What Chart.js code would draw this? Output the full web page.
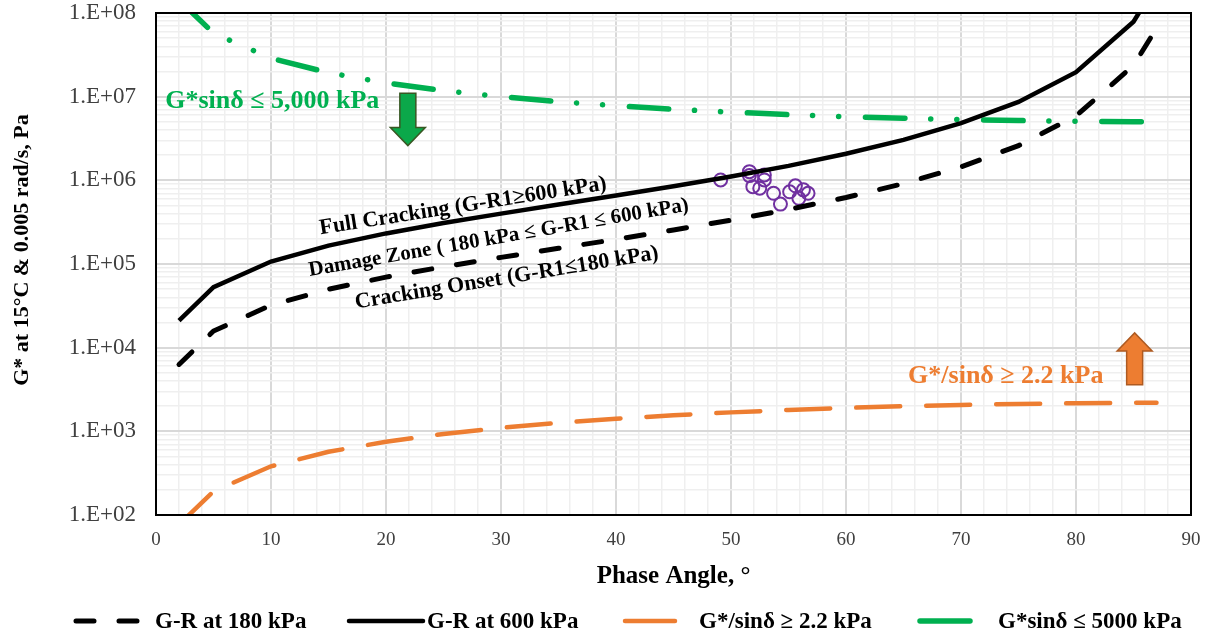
<!DOCTYPE html>
<html>
<head>
<meta charset="utf-8">
<script src="https://cdn.jsdelivr.net/npm/chart.js@4/dist/chart.umd.min.js"></script>
<style>
  html, body { margin: 0; padding: 0; background: #fff; }
  #wrap { width: 1211px; height: 636px; position: relative; }
</style>
</head>
<body>
<div id="wrap"><canvas id="grChart"></canvas></div>
<script>
(function () {
  'use strict';

  // phase angle (deg) of the limit curves
  var phase = [2, 5, 10, 15, 20, 25, 30, 35, 40, 45, 50, 55, 60, 65, 70, 75, 80, 85, 87];
  // G* (Pa) on the Glover-Rowe 180 kPa and 600 kPa curves
  var gr180 = [6.3e3, 1.58e4, 3.22e4, 4.99e4, 6.97e4, 9.26e4, 1.2e5, 1.54e5, 1.97e5, 2.55e5,
               3.34e5, 4.48e5, 6.24e5, 9.13e5, 1.45e6, 2.6e6, 5.88e6, 2.36e7, 6.56e7];
  var gr600 = [2.1e4, 5.3e4, 1.07e5, 1.66e5, 2.32e5, 3.09e5, 4.0e5, 5.13e5, 6.57e5, 8.49e5,
               1.11e6, 1.49e6, 2.08e6, 3.04e6, 4.82e6, 8.65e6, 1.96e7, 7.87e7, 2.19e8];
  // G*/sin(d) = 2.2 kPa and G*sin(d) = 5000 kPa limits
  var rutLimit = [76.8, 192, 382, 569, 752, 930, 1100, 1262, 1414, 1556,
                  1685, 1802, 1905, 1994, 2067, 2125, 2167, 2192, 2197];
  var fatLimit = [1.43e8, 5.74e7, 2.88e7, 1.93e7, 1.46e7, 1.18e7, 1.0e7, 8.72e6, 7.78e6, 7.07e6,
                  6.53e6, 6.10e6, 5.77e6, 5.52e6, 5.32e6, 5.18e6, 5.08e6, 5.02e6, 5.01e6];

  // measured binders
  var binderPhase = [49.1, 51.6, 51.6, 52.9, 52.9, 51.9, 52.5, 53.7, 54.3, 55.1, 55.6, 55.9, 56.3, 56.7];
  var binderG = [1.01e6, 1.27e6, 1.14e6, 1.16e6, 1.01e6, 8.4e5, 8.05e5, 7.0e5, 5.2e5, 7.3e5,
                 8.6e5, 6.1e5, 7.7e5, 7.0e5];

  var yTickLabels = ['1.E+02', '1.E+03', '1.E+04', '1.E+05', '1.E+06', '1.E+07', '1.E+08'];
  var legendLabels = ['G-R at 180 kPa', 'G-R at 600 kPa', 'G*/sinδ ≥ 2.2 kPa', 'G*sinδ ≤ 5000 kPa'];
  var yTitle = 'G* at 15°C & 0.005 rad/s, Pa';

  var serif = '"Liberation Serif", "Times New Roman", serif';
  var grDash = [18, 25];

  function pts(ys) {
    return phase.map(function (x, i) { return { x: x, y: ys[i] }; });
  }
  function isDecade(v) {
    var l = Math.log10(v);
    return Math.abs(l - Math.round(l)) < 1e-9;
  }

  // annotation text placed in data coordinates
  var notes = [
    { text: 'Full Cracking (G-R1≥600 kPa)', x: 26.7, y: 4.9e5, rot: -8.9, size: 22, color: '#000', align: 'center' },
    { text: 'Damage Zone ( 180 kPa ≤ G-R1 ≤ 600 kPa)', x: 29.8, y: 2.05e5, rot: -9.8, size: 21, color: '#000', align: 'center' },
    { text: 'Cracking Onset (G-R1≤180 kPa)', x: 30.5, y: 6.8e4, rot: -9.3, size: 22, color: '#000', align: 'center' },
    { text: 'G*sinδ ≤ 5,000 kPa', x: 0.8, y: 8.9e6, rot: 0, size: 26, color: '#00B050', align: 'left' },
    { text: 'G*/sinδ ≥ 2.2 kPa', x: 65.4, y: 4.5e3, rot: 0, size: 26, color: '#ED7D31', align: 'left' }
  ];

  function drawArrow(ctx, cx, yTail, yTip, fill, stroke) {
    var dir = yTip > yTail ? 1 : -1;
    var headLen = 18, shaft = 8, head = 17.5;
    var yBase = yTip - dir * headLen;
    ctx.beginPath();
    ctx.moveTo(cx - shaft, yTail);
    ctx.lineTo(cx + shaft, yTail);
    ctx.lineTo(cx + shaft, yBase);
    ctx.lineTo(cx + head, yBase);
    ctx.lineTo(cx, yTip);
    ctx.lineTo(cx - head, yBase);
    ctx.lineTo(cx - shaft, yBase);
    ctx.closePath();
    ctx.fillStyle = fill;
    ctx.fill();
    ctx.lineWidth = 1.5;
    ctx.strokeStyle = stroke;
    ctx.stroke();
  }

  var extras = {
    id: 'extras',
    afterDatasetsDraw: function (chart) {
      var ctx = chart.ctx, a = chart.chartArea;
      var xs = chart.scales.x, ys = chart.scales.y;
      ctx.save();
      // plot frame
      ctx.lineWidth = 2;
      ctx.strokeStyle = '#000';
      ctx.strokeRect(a.left, a.top, a.right - a.left, a.bottom - a.top);

      // y axis title
      ctx.save();
      ctx.translate(22, 250);
      ctx.rotate(-Math.PI / 2);
      ctx.font = 'bold 22px ' + serif;
      ctx.fillStyle = '#000';
      ctx.textAlign = 'center';
      ctx.textBaseline = 'middle';
      ctx.fillText(yTitle, 0, 0);
      ctx.restore();

      notes.forEach(function (n) {
        ctx.save();
        ctx.translate(xs.getPixelForValue(n.x), ys.getPixelForValue(n.y));
        ctx.rotate(n.rot * Math.PI / 180);
        ctx.font = 'bold ' + n.size + 'px ' + serif;
        ctx.fillStyle = n.color;
        ctx.textAlign = n.align;
        ctx.textBaseline = 'middle';
        ctx.fillText(n.text, 0, 0);
        ctx.restore();
      });

      drawArrow(ctx, xs.getPixelForValue(21.9), ys.getPixelForValue(1.1e7), ys.getPixelForValue(2.6e6),
                '#0BA84A', '#385723');
      drawArrow(ctx, xs.getPixelForValue(85.1), ys.getPixelForValue(3.6e3), ys.getPixelForValue(1.5e4),
                '#ED7D31', '#AE5A21');

      // legend row
      var items = [
        { sx: 76, ex: 140, tx: 155 },
        { sx: 349, ex: 423, tx: 427 },
        { sx: 625, ex: 675, tx: 699 },
        { sx: 920, ex: 970, tx: 998 }
      ];
      var ly = 621;
      items.forEach(function (it, i) {
        var ds = chart.data.datasets[i];
        ctx.beginPath();
        ctx.lineWidth = ds.borderWidth;
        ctx.strokeStyle = ds.borderColor;
        ctx.lineCap = 'round';
        ctx.setLineDash(i === 0 ? grDash : []);
        ctx.moveTo(it.sx, ly);
        ctx.lineTo(it.ex, ly);
        ctx.stroke();
        ctx.setLineDash([]);
        ctx.font = 'bold 23px ' + serif;
        ctx.fillStyle = '#000';
        ctx.textAlign = 'left';
        ctx.textBaseline = 'middle';
        ctx.fillText(legendLabels[i], it.tx, ly + 1);
      });
      ctx.restore();
    }
  };

  new Chart(document.getElementById('grChart'), {
    type: 'scatter',
    data: {
      datasets: [{
        label: legendLabels[0],
        data: pts(gr180),
        showLine: true,
        borderColor: '#000',
        borderWidth: 5,
        borderDash: grDash,
        borderCapStyle: 'round',
        pointRadius: 0,
        clip: 0
      }, {
        label: legendLabels[1],
        data: pts(gr600),
        showLine: true,
        borderColor: '#000',
        borderWidth: 4.5,
        pointRadius: 0,
        clip: 0
      }, {
        label: legendLabels[2],
        data: pts(rutLimit),
        showLine: true,
        borderColor: '#ED7D31',
        borderWidth: 4.5,
        borderDash: [44, 26],
        borderCapStyle: 'round',
        pointRadius: 0,
        clip: 0
      }, {
        label: legendLabels[3],
        data: pts(fatLimit),
        showLine: true,
        borderColor: '#00B050',
        borderWidth: 5.5,
        borderDash: [39.5, 25.75, 0.1, 26, 0.1, 26.75],
        borderCapStyle: 'round',
        pointRadius: 0,
        clip: 0
      }, {
        label: 'Binders',
        data: binderPhase.map(function (x, i) { return { x: x, y: binderG[i] }; }),
        showLine: false,
        pointStyle: 'circle',
        pointRadius: 6.5,
        pointBorderWidth: 2,
        borderColor: '#7030A0',
        backgroundColor: 'rgba(0,0,0,0)',
        clip: 0
      }]
    },
    options: {
      responsive: true,
      maintainAspectRatio: false,
      animation: false,
      layout: { padding: { top: 13, right: 20, bottom: 40, left: 0 } },
      plugins: {
        legend: { display: false },
        tooltip: { enabled: false }
      },
      scales: {
        x: {
          type: 'linear',
          min: 0,
          max: 90,
          afterFit: function (s) {
            s.height = 81;
            s.paddingLeft = 0;
            s.paddingRight = 0;
          },
          ticks: {
            stepSize: 2,
            autoSkip: false,
            maxRotation: 0,
            padding: 14,
            color: '#404040',
            font: { family: serif, size: 19 },
            callback: function (v) { return v % 10 === 0 ? String(v) : ''; }
          },
          grid: {
            drawTicks: false,
            color: function (c) { return c.tick && c.tick.value % 10 === 0 ? '#d9d9d9' : '#efefef'; },
            lineWidth: function (c) { return c.tick && c.tick.value % 10 === 0 ? 2 : 1.5; }
          },
          border: { display: false },
          title: {
            display: true,
            text: 'Phase Angle, °',
            color: '#000',
            font: { family: serif, size: 25, weight: 'bold' },
            padding: { top: 20 }
          }
        },
        y: {
          type: 'logarithmic',
          min: 100,
          max: 1e8,
          afterFit: function (s) {
            s.width = 156;
            s.paddingTop = 0;
            s.paddingBottom = 0;
          },
          afterBuildTicks: function (s) {
            var t = [];
            for (var d = 2; d <= 8; d++) {
              for (var m = 1; m <= 9; m++) {
                var v = m * Math.pow(10, d);
                if (v <= 1e8) t.push({ value: v });
              }
            }
            s.ticks = t;
          },
          ticks: {
            autoSkip: false,
            padding: 20,
            color: '#404040',
            font: { family: serif, size: 23 },
            callback: function (v) {
              if (!isDecade(v)) return '';
              return yTickLabels[Math.round(Math.log10(v)) - 2];
            }
          },
          grid: {
            drawTicks: false,
            color: function (c) { return c.tick && isDecade(c.tick.value) ? '#d9d9d9' : '#efefef'; },
            lineWidth: function (c) { return c.tick && isDecade(c.tick.value) ? 2 : 1.5; }
          },
          border: { display: false }
        }
      }
    },
    plugins: [extras]
  });
})();
</script>
</body>
</html>
